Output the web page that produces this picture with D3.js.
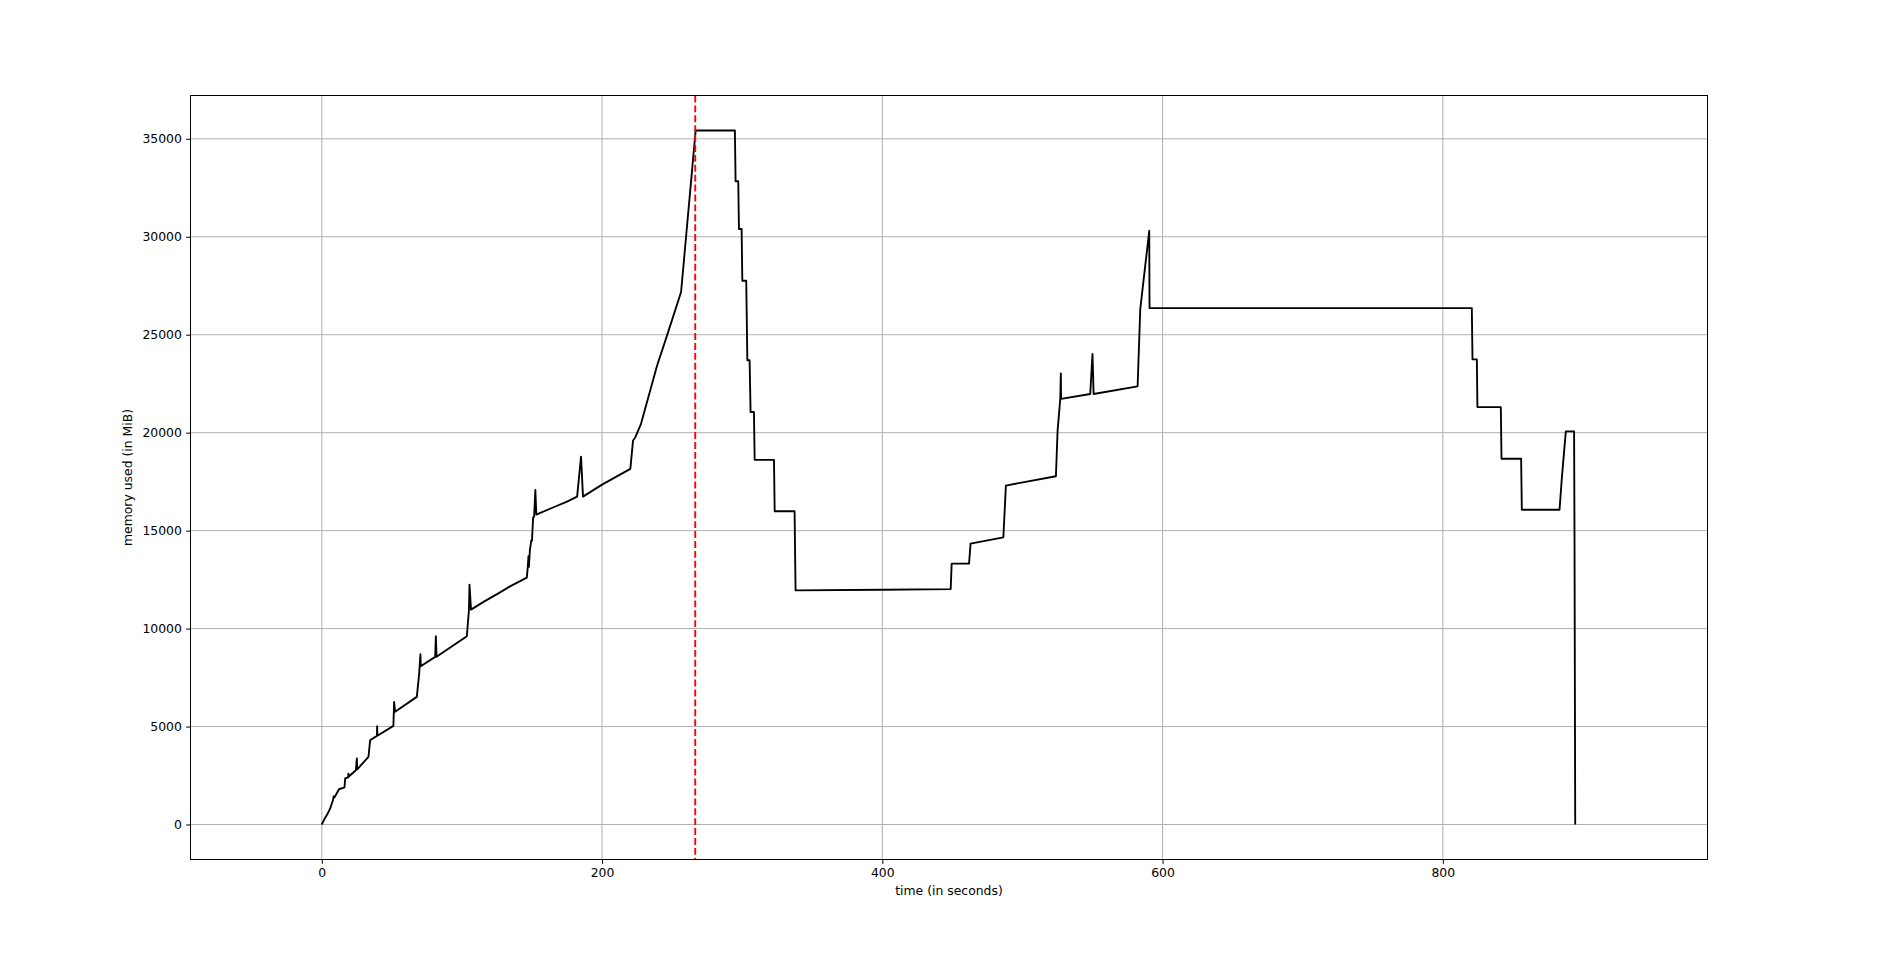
<!DOCTYPE html>
<html lang="en">
<head>
<meta charset="UTF-8">
<title>memory usage</title>
<style>
  body { margin: 0; background: #fff; }
  text { font-family: "DejaVu Sans", sans-serif; }
</style>
</head>
<body>
<script src="https://d3js.org/d3.v7.min.js"></script>
<script>
// memory samples: time (s) and memory (MiB)
var times = [0, 2, 3.6, 6, 8, 8.5, 9, 11.9, 12.3, 16.2, 16.7, 18.8, 19, 19.3, 24.3, 25, 25.3,
  33.3, 34.5, 39.3, 39.5, 39.7, 51.1, 51.6, 52.3, 67.8, 68.5, 69.5, 70.4, 70.6, 80.9, 81.4, 81.9,
  103.5, 105, 105.4, 106.5, 115.4, 126, 135, 146.3, 147, 147.5, 147.8, 148.5, 149.5, 150, 150.8, 151.5,
  152.4, 153.1, 165, 175, 182.2, 185, 186.4, 200, 220.2, 222.1, 223.8, 227.8, 239.3, 246.4, 256.4, 266.8,
  294.8, 295.3, 297.2, 297.7, 299.6, 300.1, 302.9, 303.7, 305.3, 306, 308.4, 308.9, 322.7, 323.2,
  337.4, 338.1, 400, 448.8, 449.5, 461.9, 463, 486.4, 488.2, 523.9, 525.1, 527, 527.4, 527.6,
  548.4, 550, 550.8, 582.2, 584.1, 590.5, 590.7, 820.7, 821.2, 824.3, 824.7, 841.4, 841.9, 855.9,
  856.4, 883.3, 885, 887.8, 893.7, 894.0, 894.5];
var memory = [0, 300, 480, 820, 1250, 1450, 1380, 1750, 1800, 1890, 2350, 2400, 2600, 2450, 2770, 3370, 2820,
  3450, 4300, 4525, 5018, 4530, 5035, 6260, 5750, 6515, 7000, 7705, 8692, 8080, 8556, 9610, 8560,
  9610, 10938, 12247, 10970, 11363, 11800, 12180, 12604, 13150, 13700, 13150, 14000, 14500, 14486, 15679, 15700,
  17076, 15815, 16180, 16480, 16736, 18780, 16736, 17350, 18150, 19598, 19769, 20450, 23432, 24966, 27181, 35426,
  35426, 32835, 32835, 30397, 30397, 27754, 27754, 23696, 23696, 21053, 21053, 18615, 18615, 15989,
  15989, 11949, 11983, 12017, 13313, 13313, 14336, 14660, 17301, 17777, 20106, 21721, 23030, 21721,
  21976, 24016, 21976, 22367, 26311, 30306, 26360, 26360, 23740, 23740, 21307, 21307, 18669, 18669,
  16064, 16064, 17732, 20064, 20064, 14500, 0];
var markTime = 266.5;   // red dashed marker

var xTicks = [0, 200, 400, 600, 800];
var yTicks = [0, 5000, 10000, 15000, 20000, 25000, 30000, 35000];

var W = 1897, H = 954;
var pL = 190.5, pR = 1707.5, pT = 95.5, pB = 859.5;
var fs = 12.4, tick = 4.35;

var svg = d3.select("body").append("svg").attr("width", W).attr("height", H);

var x = d3.scaleLinear().domain([-93.7, 988.9]).range([pL, pR]);
var y = d3.scaleLinear().domain([-1786, 37210]).range([pB, pT]);

// grid
var grid = svg.append("g");
grid.selectAll(".gx").data(xTicks).enter().append("line")
  .attr("x1", function(d){ return x(d); }).attr("x2", function(d){ return x(d); })
  .attr("y1", pT).attr("y2", pB)
  .attr("stroke", "#b0b0b0").attr("stroke-width", 1);
grid.selectAll(".gy").data(yTicks).enter().append("line")
  .attr("y1", function(d){ return y(d); }).attr("y2", function(d){ return y(d); })
  .attr("x1", pL).attr("x2", pR)
  .attr("stroke", "#b0b0b0").attr("stroke-width", 1);

// memory line
var pts = times.map(function(t, i){ return [t, memory[i]]; });
var line = d3.line().x(function(d){ return x(d[0]); }).y(function(d){ return y(d[1]); });
svg.append("path").datum(pts).attr("d", line)
  .attr("fill", "none").attr("stroke", "#000").attr("stroke-width", 1.86)
  .attr("stroke-linejoin", "round");

// red dashed line
svg.append("line")
  .attr("x1", x(markTime)).attr("x2", x(markTime)).attr("y1", pT).attr("y2", pB)
  .attr("stroke", "#ff0000").attr("stroke-width", 1.86).attr("stroke-dasharray", "6.9,3");

// axes
var xAxis = svg.append("g").attr("transform", "translate(0," + pB + ")")
  .call(d3.axisBottom(x).tickValues(xTicks).tickFormat(d3.format("d"))
    .tickSize(tick).tickPadding(tick).tickSizeOuter(0));
var yAxis = svg.append("g").attr("transform", "translate(" + pL + ",0)")
  .call(d3.axisLeft(y).tickValues(yTicks).tickFormat(d3.format("d"))
    .tickSize(tick).tickPadding(tick).tickSizeOuter(0));
[xAxis, yAxis].forEach(function(a){
  a.select(".domain").remove();
  a.selectAll("text").attr("font-size", fs).attr("fill", "#000")
    .attr("font-family", "DejaVu Sans, sans-serif");
  a.selectAll("line").attr("stroke", "#000").attr("stroke-width", 1);
});

// frame
svg.append("rect").attr("x", pL).attr("y", pT)
  .attr("width", pR - pL).attr("height", pB - pT)
  .attr("fill", "none").attr("stroke", "#000").attr("stroke-width", 1);

// labels
svg.append("text").attr("x", (pL + pR) / 2).attr("y", 895)
  .attr("text-anchor", "middle").attr("font-size", fs).text("time (in seconds)");
svg.append("text").attr("transform", "translate(131.5," + ((pT + pB) / 2) + ") rotate(-90)")
  .attr("text-anchor", "middle").attr("font-size", fs).text("memory used (in MiB)");
</script>
</body>
</html>
